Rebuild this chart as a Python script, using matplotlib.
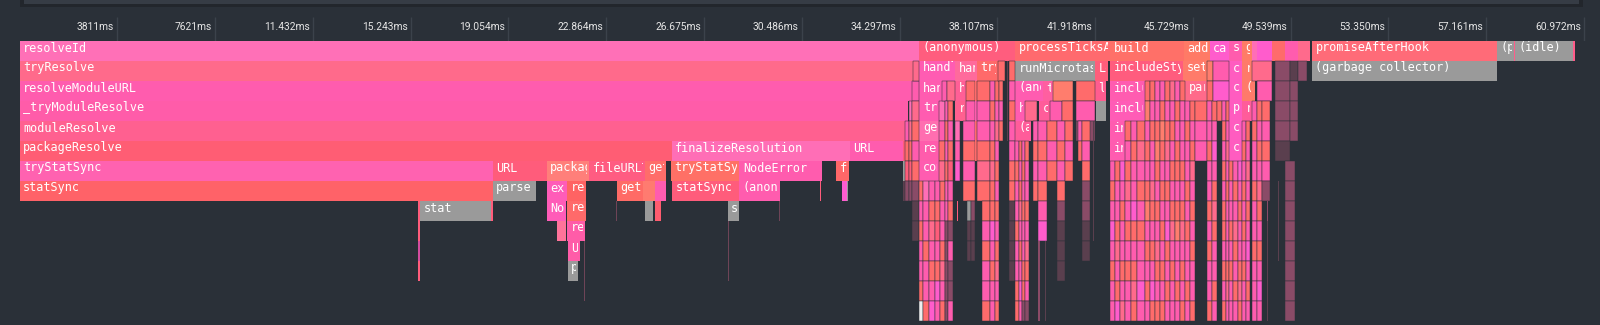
import matplotlib
matplotlib.use('Agg')
import matplotlib.pyplot as plt
import matplotlib.transforms as mtransforms
from matplotlib.patches import Rectangle

# time ruler (ms)
tick_values = [3.811, 7.621, 11.432, 15.243, 19.054, 22.864, 26.675, 30.486,
               34.297, 38.107, 41.918, 45.729, 49.539, 53.350, 57.161, 60.972]
tick_labels = ['3811ms', '7621ms', '11.432ms', '15.243ms', '19.054ms', '22.864ms',
               '26.675ms', '30.486ms', '34.297ms', '38.107ms', '41.918ms', '45.729ms',
               '49.539ms', '53.350ms', '57.161ms', '60.972ms']

# labelled frames per depth: (start ms, end ms, name, colour)
row0 = [(0.0, 35.07, 'resolveId', '#ff70b7'),
        (35.07, 38.80, '(anonymous)', '#ff5d7e'),
        (38.80, 42.50, 'processTicksAndRejections', '#ff6a6e'),
        (42.50, 45.38, 'build', '#ff7068'),
        (45.38, 46.39, 'addModule', '#ff7a66'),
        (46.39, 47.14, 'callback', '#ff5ccc'),
        (47.14, 47.64, 'setup', '#ff5cad'),
        (47.64, 48.03, 'get', '#ff7c66'),
        (48.03, 48.23, '', '#ff6eb6'),
        (48.23, 48.81, '', '#ff5ccc'),
        (48.81, 49.32, '', '#ff6b6b'),
        (49.32, 49.82, '', '#ff5cae'),
        (49.82, 50.29, '', '#ff6a8c'),
        (50.37, 57.58, 'promiseAfterHook', '#ff6b78'),
        (57.58, 58.24, '(program)', '#9a9a9a'),
        (58.24, 58.30, '', '#ff5c8a'),
        (58.30, 60.54, '(idle)', '#9a9a9a'),
        (60.54, 60.62, '', '#ff5c8a')]
row1 = [(0.0, 34.82, 'tryResolve', '#ff6a8b'),
        (35.07, 36.46, 'handleMessage', '#ff5cb2'),
        (36.46, 37.31, 'handler', '#ff6a9c'),
        (37.31, 38.14, 'tryLoad', '#ff6a6a'),
        (38.80, 41.91, 'runMicrotasks', '#9a9a9a'),
        (41.91, 42.42, 'Loader', '#ff5d7b'),
        (42.50, 45.34, 'includeStyles', '#ff5c7e'),
        (45.34, 46.28, 'setup', '#ff7b6a'),
        (47.14, 47.64, 'check', '#ff5cc0'),
        (47.64, 48.03, 'read', '#ff7a6a'),
        (50.37, 57.58, '(garbage collector)', '#9a9a9a')]
row2 = [(0.0, 34.77, 'resolveModuleURL', '#ff5cae'),
        (35.07, 35.95, 'handler', '#ff5cb0'),
        (36.46, 36.90, 'hook', '#ff5f96'),
        (38.80, 39.89, '(anonymous)', '#ff5cb0'),
        (39.89, 40.28, 'then', '#ff5fa0'),
        (41.91, 42.36, 'load', '#ff5c8f'),
        (42.50, 43.86, 'includeFile', '#ff5cb0'),
        (45.42, 46.28, 'parse', '#ff6a8a'),
        (47.14, 47.64, 'compile', '#ff5cc0'),
        (47.64, 48.15, '(anonymous)', '#ff7a6a')]
row3 = [(0.0, 34.64, '_tryModuleResolve', '#ff5ca9'),
        (35.07, 35.85, 'tryRead', '#ff5cb0'),
        (36.46, 36.90, 'run', '#ff6090'),
        (38.80, 39.20, 'handle', '#ff5cb0'),
        (39.73, 40.15, 'call', '#ff5c9a'),
        (41.95, 42.34, '', '#9a9a9a'),
        (42.50, 43.86, 'includeFile', '#ff5cb6'),
        (47.14, 47.64, 'process', '#ff5cc0'),
        (47.64, 48.03, 'read', '#ff5c9a')]
row4 = [(0.0, 34.51, 'moduleResolve', '#ff6090'),
        (35.07, 35.85, 'getSource', '#ff6eb0'),
        (38.80, 39.42, '(anonymous)', '#ff5c9a'),
        (42.50, 43.08, 'include', '#ff5cb0'),
        (47.14, 47.64, 'compile', '#ff5cc0')]
row5 = [(0.0, 25.42, 'packageResolve', '#ff5d74'),
        (25.42, 32.37, 'finalizeResolution', '#ff6eb6'),
        (32.37, 34.42, 'URL', '#ff5cae'),
        (35.07, 35.85, 'readFile', '#ff5cac'),
        (42.50, 43.08, 'include', '#ff5cb0'),
        (47.14, 47.64, 'compile', '#ff5cc0')]
row6 = [(0.0, 18.44, 'tryStatSync', '#ff62b0'),
        (18.44, 20.55, 'URL', '#ff5c7b'),
        (20.55, 22.21, 'packageJsonReader', '#ff7f7a'),
        (22.21, 24.38, 'fileURLToPath', '#ff5c82'),
        (24.38, 25.20, 'getOptions', '#ff6d6a'),
        (25.39, 28.05, 'tryStatSync', '#ff7066'),
        (28.05, 31.26, 'NodeError', '#ff5cae'),
        (31.82, 32.34, 'fileURLToPath', '#ff6768'),
        (35.07, 35.85, 'compileFunction', '#ff5cb0')]
row7 = [(0.0, 18.44, 'statSync', '#ff6268'),
        (18.44, 20.11, 'parse', '#9a9a9a'),
        (20.55, 21.35, 'exists', '#ff5cb8'),
        (21.35, 22.07, 'readPackage', '#ff6363'),
        (23.27, 24.31, 'getPackageScope', '#ff6b66'),
        (24.31, 24.77, '', '#ff7b70'),
        (24.77, 25.18, '', '#ff5cb0'),
        (25.44, 28.05, 'statSync', '#ff5c7b'),
        (28.05, 29.64, '(anonymous)', '#ff5cae'),
        (31.20, 31.24, '', '#ff5c7b'),
        (32.04, 32.26, '', '#ff5ccf'),
        (32.26, 32.30, '', '#9a9a9a')]
row8 = [(15.54, 15.61, '', '#ff5c7b'),
        (15.61, 18.39, 'stat', '#9a9a9a'),
        (18.39, 18.44, '', '#ff5c7b'),
        (20.55, 21.29, 'NodeError', '#ff5cb8'),
        (21.35, 22.07, 'readPackage', '#ff6a6a'),
        (23.25, 23.29, '', '#6e4457'),
        (24.39, 24.70, '', '#9a9a9a'),
        (24.78, 24.99, '', '#ff5c6f'),
        (27.60, 28.04, 'stat', '#9a9a9a'),
        (29.60, 29.64, '', '#6e4457')]
row9 = [(15.54, 15.61, '', '#ff5c7b'),
        (20.94, 21.29, '', '#ff739a'),
        (21.35, 22.04, 'readPackageJson', '#ff5ca8'),
        (27.60, 27.64, '', '#6e4457')]
row10 = [(15.54, 15.61, '', '#d44c9e'),
         (21.36, 21.86, 'URL', '#ff5ca8'),
         (22.00, 22.04, '', '#6e4457'),
         (27.60, 27.64, '', '#6e4457')]
row11 = [(15.54, 15.61, '', '#ff5c7b'),
         (21.36, 21.78, 'parse', '#9a9a9a'),
         (22.00, 22.04, '', '#6e4457'),
         (27.60, 27.64, '', '#6e4457')]
row12 = [(22.00, 22.04, '', '#6e4457')]

# unlabelled short calls: (start ms, end ms, first depth, colour key per depth)
stacks = [(34.42, 34.51, 5, 'rgd'), (34.51, 34.66, 4, 'psre'), (34.66, 34.77, 3, 'lqsre'),
          (34.77, 35.07, 2, 'pqspsedd'), (34.82, 35.07, 1, 'q'),
          (35.07, 35.21, 7, 'spsppsw'), (35.21, 35.45, 7, 'lppspps'), (35.45, 35.68, 7, 'psqpsph'),
          (35.68, 35.88, 7, 'psrpshp'), (35.88, 36.07, 7, 'sppsqps'), (35.85, 36.07, 3, 'lpsq'),
          (35.95, 36.15, 2, 'p'), (36.15, 36.46, 2, 'q'),
          (36.07, 36.18, 3, 'pspsppeeeee'), (36.18, 36.38, 3, 'spsrpsepeep'),
          (36.90, 37.24, 2, 'sp'), (36.46, 36.65, 4, 'lph'), (36.77, 37.24, 4, 'psps'),
          (36.55, 36.59, 8, 'r'), (36.93, 37.08, 8, 'gdd'), (37.08, 37.24, 8, 'edd'),
          (37.24, 37.31, 2, 'spss'), (37.31, 37.82, 2, 'sppsqs'), (37.51, 37.82, 8, 'spspps'),
          (37.82, 38.00, 2, 'pspsqsshpspp'), (38.00, 38.17, 2, 'spqpspspsqps'),
          (38.14, 38.41, 1, 's'), (38.17, 38.33, 2, 'sps'), (38.48, 38.52, 1, 'dddd'),
          (38.56, 38.80, 1, 'spsppssdddd'),
          (39.20, 39.66, 3, 'q'), (40.15, 40.63, 3, 'p'),
          (40.28, 41.06, 2, 'o'), (41.17, 41.91, 2, 'spe'), (40.63, 41.06, 3, 's'),
          (38.80, 38.94, 5, 'psppsppss'), (38.94, 39.07, 5, 'spsqpsphp'),
          (39.07, 39.20, 5, 'pspsppsse'), (39.20, 39.34, 5, 'sppspqspe'), (39.50, 39.69, 4, 'psps'),
          (39.69, 40.04, 4, 'pspsph'), (39.71, 39.77, 10, 'eeee'), (39.95, 40.00, 10, 'dddd'),
          (40.04, 40.43, 4, 'sps'), (40.43, 40.74, 4, 'pspseddd'), (40.74, 41.06, 4, 'sps'),
          (41.25, 41.41, 4, 'ps'), (41.41, 41.72, 4, 'spseedd'), (41.84, 41.87, 4, 'dddddd'),
          (42.50, 42.70, 6, 'psphpspp'), (42.70, 42.88, 6, 'sppsqpsh'), (42.88, 43.08, 6, 'hpsppspq'),
          (43.08, 43.30, 4, 'spsqpspspp'), (43.30, 43.55, 4, 'pspphspsqs'), (43.55, 43.86, 4, 'sqpspspphp'),
          (43.86, 44.05, 2, 'sopspsopspsp'), (44.05, 44.25, 2, 'spsppqspsphs'),
          (44.25, 44.45, 2, 'ppsospspqsps'), (44.45, 44.65, 2, 'psospspspsps'),
          (44.65, 44.85, 2, 'spsqpsphspsp'), (44.85, 45.03, 2, 'qpspspsqpspp'),
          (45.03, 45.22, 2, 'pspsspsoppsp'), (45.22, 45.42, 2, 'spppspsqpsps'),
          (45.42, 45.62, 3, 'psppspsppsp'), (45.62, 45.81, 3, 'spsqpspspps'), (45.81, 46.28, 3, 'spp'),
          (46.28, 46.51, 1, 'os'), (46.28, 46.47, 3, 'ppsppspspps'), (46.47, 46.67, 3, 'sphpsqsppsp'),
          (46.51, 47.14, 1, 'ph'), (46.67, 46.86, 3, 's'),
          (46.86, 47.00, 3, 'pspspsspsps'), (47.00, 47.14, 3, 'spqpspppsqp'),
          (47.14, 47.30, 6, 'sppspspp'), (47.30, 47.47, 6, 'pspqspsp'), (47.47, 47.64, 6, 'hpsppsqs'),
          (47.64, 47.80, 4, 'pspspspspp'), (47.80, 47.95, 4, 'spqpsphpsp'),
          (48.03, 48.81, 1, 'q'), (48.23, 48.81, 2, 'p'),
          (48.03, 48.22, 3, 'psppsppsppp'), (48.22, 48.42, 3, 'spspqspsphp'),
          (48.42, 48.73, 3, 'spspe'), (48.62, 48.66, 8, 'eddddd'),
          (48.93, 49.51, 1, 'eeeed'), (49.51, 49.82, 1, 'deee'), (49.04, 49.08, 7, 'dddd'),
          (49.32, 49.71, 6, 'eeeeeeee'), (49.82, 50.18, 1, 'e')]

palette = {'p': '#ff5cae', 'l': '#ff6eb6', 'h': '#ff5ccc', 'r': '#ff5c7a', 'q': '#ff6a8c',
           's': '#ff6b6b', 'o': '#ff7d6d', 'g': '#9a9a9a', 'd': '#5a3f4e', 'e': '#8a4b67',
           'w': '#eeeeee'}

rows = [row0, row1, row2, row3, row4, row5, row6, row7, row8, row9, row10, row11, row12]

bg = '#2a3038'
W, H = 1600, 325
left_px, top_px, ms_px = 19.5, 40.5, 25.66
pad = 2.2 / ms_px  # right padding before a label is cut

fig = plt.figure(figsize=(W / 100, H / 100), dpi=100, facecolor=bg)

# top strip (overview bar)
fig.patches.append(Rectangle((20 / W, 1 - 7 / H), 1563 / W, 7 / H, transform=fig.transFigure,
                             fc='#22262c', lw=0))
fig.patches.append(Rectangle((24 / W, 1 - 4 / H), 1555 / W, 4 / H, transform=fig.transFigure,
                             fc='#363c45', lw=0))

x1 = (W - left_px) / ms_px
ax = fig.add_axes([left_px / W, 0, 1 - left_px / W, 1 - top_px / H])
ax.set_xlim(0, x1)
ax.set_ylim((H - top_px) / 20.0, 0)
ax.set_axis_off()

head = fig.add_axes([left_px / W, 1 - top_px / H, 1 - left_px / W, top_px / H])
head.set_xlim(0, x1)
head.set_ylim(top_px, 0)
head.set_axis_off()
head.vlines(tick_values, 17, top_px, color='#3b424b', lw=1)
lab_tr = mtransforms.offset_copy(head.transData, fig=fig, x=-3, y=0, units='dots')
for v, s in zip(tick_values, tick_labels):
    head.text(v, 27.5, s, ha='right', va='center', transform=lab_tr,
              family=['Roboto', 'DejaVu Sans'], fontsize=7.4, color='#e6e6e6')

txt_tr = mtransforms.offset_copy(ax.transData, fig=fig, x=3.5, y=0, units='dots')
for depth, row in enumerate(rows):
    for s, e, name, c in row:
        ax.add_patch(Rectangle((s, depth + 0.04), e - s, 0.96, fc=c, lw=0))
        if name:
            clip = Rectangle((s, depth), max(e - s - pad, 0), 1, transform=ax.transData)
            t = ax.text(s, depth + 0.55, name, transform=txt_tr, ha='left', va='baseline',
                        family='DejaVu Sans Mono', fontsize=8.5, color='white', clip_on=True)
            t.set_clip_path(clip)

for s, e, d0, keys in stacks:
    for i, k in enumerate(keys):
        if k == '.':
            continue
        lw = 0.35 if e - s > 0.1 else 0
        ax.add_patch(Rectangle((s, d0 + i + 0.04), e - s, 0.96, fc=palette[k],
                               ec=bg, lw=lw))

fig.savefig('out.png', dpi=100, facecolor=bg)
